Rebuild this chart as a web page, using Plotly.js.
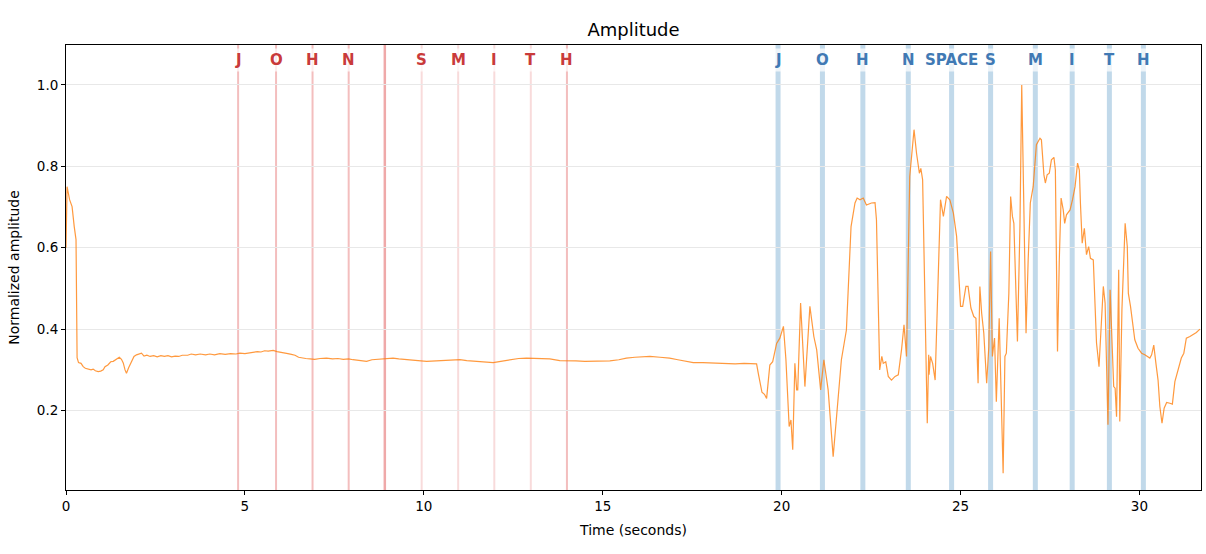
<!DOCTYPE html>
<html>
<head>
<meta charset="utf-8">
<script src="https://cdn.plot.ly/plotly-3.0.1.min.js"></script>
<style>html,body{margin:0;padding:0;background:#fff;}#chart{width:1206px;height:554px;}</style>
</head>
<body>
<div id="chart"></div>
<script>
// Amplitude trace (seconds, normalized amplitude)
const time = [
0.00,0.03,0.10,0.17,0.23,0.28,0.31,0.35,0.42,0.48,0.54,0.62,0.70,0.76,0.82,0.90,0.97,1.04,1.09,1.17,
1.25,1.32,1.40,1.49,1.55,1.60,1.65,1.69,1.75,1.83,1.90,1.97,2.05,2.11,2.18,2.26,2.35,2.45,2.55,2.65,
2.75,2.85,2.95,3.05,3.15,3.25,3.40,3.50,3.62,3.75,3.90,4.02,4.15,4.30,4.45,4.60,4.75,4.86,5.00,5.12,
5.23,5.35,5.45,5.55,5.65,5.79,5.90,5.98,6.10,6.20,6.30,6.40,6.50,6.60,6.70,6.82,6.95,7.10,7.28,7.45,
7.60,7.75,7.90,8.02,8.15,8.30,8.40,8.55,8.68,8.80,9.00,9.14,9.30,9.51,9.61,9.84,10.08,10.30,10.55,10.80,
11.01,11.20,11.45,11.70,11.94,12.15,12.40,12.65,12.87,13.10,13.30,13.52,13.80,14.00,14.25,14.50,14.73,15.00,15.20,15.45,
15.66,15.90,16.10,16.32,16.60,16.87,17.10,17.30,17.53,17.80,18.05,18.25,18.46,18.70,18.95,19.15,19.30,19.35,19.40,19.45,
19.52,19.58,19.67,19.75,19.86,19.95,20.05,20.12,20.21,20.26,20.31,20.37,20.42,20.45,20.53,20.65,20.79,20.90,20.98,21.09,
21.18,21.30,21.44,21.58,21.67,21.81,21.94,22.05,22.11,22.19,22.28,22.37,22.51,22.61,22.65,22.74,22.80,22.84,22.91,22.98,
23.07,23.17,23.26,23.35,23.42,23.49,23.54,23.58,23.70,23.77,23.85,23.89,23.94,24.00,24.07,24.11,24.12,24.16,24.22,24.29,
24.38,24.44,24.52,24.61,24.70,24.80,24.89,25.00,25.06,25.15,25.21,25.29,25.37,25.43,25.49,25.54,25.59,25.65,25.73,25.79,
25.84,25.89,25.95,26.00,26.08,26.14,26.19,26.24,26.28,26.35,26.40,26.45,26.49,26.59,26.66,26.71,26.77,26.83,26.89,26.95,
27.03,27.12,27.22,27.26,27.33,27.37,27.42,27.48,27.54,27.61,27.65,27.71,27.76,27.81,27.87,27.91,27.96,28.06,28.13,28.20,
28.27,28.32,28.35,28.40,28.46,28.52,28.58,28.63,28.71,28.75,28.80,28.87,28.92,28.99,29.04,29.08,29.12,29.18,29.23,29.28,
29.32,29.36,29.42,29.45,29.51,29.55,29.60,29.66,29.69,29.75,29.81,29.87,29.96,30.06,30.15,30.22,30.29,30.34,30.40,30.46,
30.52,30.57,30.63,30.69,30.76,30.85,30.92,30.99,31.08,31.17,31.24,31.31,31.41,31.50,31.59,31.69
];
const amplitude = [
0.600,0.750,0.718,0.701,0.652,0.620,0.330,0.318,0.316,0.308,0.304,0.302,0.300,0.302,0.298,0.296,0.297,0.300,0.308,0.312,
0.320,0.321,0.326,0.331,0.326,0.317,0.300,0.292,0.305,0.321,0.333,0.337,0.340,0.341,0.334,0.336,0.333,0.335,0.332,0.335,
0.333,0.335,0.332,0.334,0.333,0.336,0.336,0.339,0.337,0.339,0.337,0.339,0.337,0.340,0.338,0.340,0.339,0.341,0.340,0.342,
0.343,0.345,0.344,0.347,0.346,0.348,0.345,0.344,0.341,0.340,0.338,0.336,0.331,0.329,0.328,0.327,0.326,0.328,0.329,0.327,
0.328,0.326,0.327,0.325,0.324,0.322,0.321,0.325,0.326,0.327,0.328,0.329,0.327,0.326,0.325,0.323,0.321,0.322,0.324,0.325,
0.325,0.323,0.321,0.319,0.318,0.321,0.325,0.328,0.329,0.328,0.327,0.327,0.323,0.323,0.322,0.321,0.321,0.321,0.322,0.325,
0.329,0.331,0.332,0.333,0.331,0.329,0.325,0.321,0.318,0.318,0.317,0.318,0.316,0.315,0.316,0.316,0.315,0.290,0.265,0.245,
0.240,0.230,0.312,0.320,0.365,0.378,0.407,0.325,0.161,0.177,0.104,0.316,0.251,0.251,0.464,0.259,0.456,0.382,0.349,0.251,
0.325,0.251,0.087,0.243,0.325,0.398,0.652,0.710,0.722,0.718,0.722,0.705,0.710,0.711,0.669,0.300,0.333,0.316,0.320,0.284,
0.275,0.284,0.288,0.349,0.411,0.333,0.570,0.775,0.890,0.832,0.783,0.795,0.767,0.488,0.169,0.337,0.288,0.333,0.316,0.275,
0.570,0.718,0.677,0.726,0.718,0.685,0.628,0.456,0.456,0.505,0.505,0.452,0.431,0.427,0.267,0.505,0.439,0.390,0.267,0.357,
0.591,0.333,0.378,0.222,0.427,0.243,0.046,0.333,0.341,0.488,0.726,0.677,0.660,0.370,0.652,1.000,0.693,0.390,0.570,0.710,
0.750,0.853,0.869,0.865,0.779,0.759,0.779,0.783,0.816,0.822,0.791,0.345,0.570,0.722,0.693,0.660,0.681,0.693,0.718,0.750,
0.808,0.791,0.710,0.611,0.648,0.583,0.603,0.574,0.570,0.488,0.366,0.308,0.407,0.505,0.464,0.284,0.165,0.497,0.366,0.259,
0.255,0.185,0.546,0.173,0.447,0.570,0.660,0.603,0.488,0.456,0.407,0.374,0.353,0.341,0.337,0.333,0.329,0.337,0.361,0.316,
0.275,0.210,0.169,0.206,0.220,0.218,0.216,0.271,0.300,0.329,0.341,0.378,0.382,0.386,0.392,0.400
];

// Expected letter onsets (red) and detected letter onsets (blue)
const expectedTimes  = [4.81, 5.87, 6.89, 7.90, 8.91, 9.94, 10.96, 11.97, 12.99, 14.00];
const expectedLabels = ["J", "O", "H", "N", "", "S", "M", "I", "T", "H"];
const detectedTimes  = [19.90, 21.14, 22.27, 23.54, 24.75, 25.84, 27.09, 28.12, 29.16, 30.11];
const detectedLabels = ["J", "O", "H", "N", "SPACE", "S", "M", "I", "T", "H"];

const xTicks = [0, 5, 10, 15, 20, 25, 30];
const yTicks = [0.2, 0.4, 0.6, 0.8, 1.0];

// styles
const redOpacity = [0.3, 0.3, 0.3, 0.3, 0.4, 0.17, 0.17, 0.17, 0.17, 0.3];
const FONT = "DejaVu Sans, sans-serif";

const shapes = [];
const annotations = [];
expectedTimes.forEach((t, i) => {
  shapes.push({type: "line", xref: "x", yref: "paper", x0: t, x1: t, y0: 0, y1: 1,
    layer: "below", line: {color: "rgba(214,39,40," + redOpacity[i] + ")", width: i === 4 ? 2.5 : 2}});
  if (expectedLabels[i]) {
    annotations.push({x: t, y: 0.966, xref: "x", yref: "paper", text: "<b>" + expectedLabels[i] + "</b>",
      showarrow: false, xanchor: "center", yanchor: "middle",
      font: {family: FONT, size: 15, color: "#c93a3a"}, bgcolor: "rgba(255,255,255,0.7)", borderpad: 2});
  }
});
detectedTimes.forEach((t, i) => {
  shapes.push({type: "line", xref: "x", yref: "paper", x0: t, x1: t, y0: 0, y1: 1,
    layer: "below", line: {color: "rgba(31,119,180,0.28)", width: 5}});
  annotations.push({x: t, y: 0.966, xref: "x", yref: "paper", text: "<b>" + detectedLabels[i] + "</b>",
    showarrow: false, xanchor: "center", yanchor: "middle",
    font: {family: FONT, size: 15, color: "#4079b4"}, bgcolor: "rgba(255,255,255,0.7)", borderpad: 2});
});

const trace = {
  x: time, y: amplitude, type: "scatter", mode: "lines",
  line: {color: "rgba(255,127,14,0.8)", width: 1.2}, hoverinfo: "skip"
};

const layout = {
  width: 1206, height: 554,
  margin: {l: 66, r: 5, t: 45, b: 64},
  paper_bgcolor: "#fff", plot_bgcolor: "#fff",
  font: {family: FONT, size: 14, color: "#000"},
  showlegend: false,
  title: {text: "Amplitude", x: 0.5, xref: "paper", xanchor: "center", y: 0.946, yanchor: "middle",
    font: {family: FONT, size: 18, color: "#000"}},
  xaxis: {
    range: [0, 31.72], tickvals: xTicks, ticktext: xTicks.map(String),
    ticks: "outside", ticklen: 4, tickcolor: "#000", tickwidth: 1,
    showline: true, mirror: true, linecolor: "#000", linewidth: 1,
    showgrid: false, zeroline: false,
    tickfont: {family: FONT, size: 13.5, color: "#000"},
    title: {text: "Time (seconds)", standoff: 11, font: {family: FONT, size: 14, color: "#000"}}
  },
  yaxis: {
    range: [0.005, 1.098], tickvals: yTicks, ticktext: yTicks.map(v => v.toFixed(1)),
    ticks: "outside", ticklen: 4, tickcolor: "#000", tickwidth: 1,
    showline: true, mirror: true, linecolor: "#000", linewidth: 1,
    showgrid: true, gridcolor: "#e8e8e8", gridwidth: 1, zeroline: false,
    tickfont: {family: FONT, size: 13.5, color: "#000"},
    title: {text: "Normalized amplitude", standoff: 13, font: {family: FONT, size: 14, color: "#000"}}
  },
  shapes: shapes,
  annotations: annotations
};

Plotly.newPlot("chart", [trace], layout, {displayModeBar: false, staticPlot: true});
</script>
</body>
</html>
